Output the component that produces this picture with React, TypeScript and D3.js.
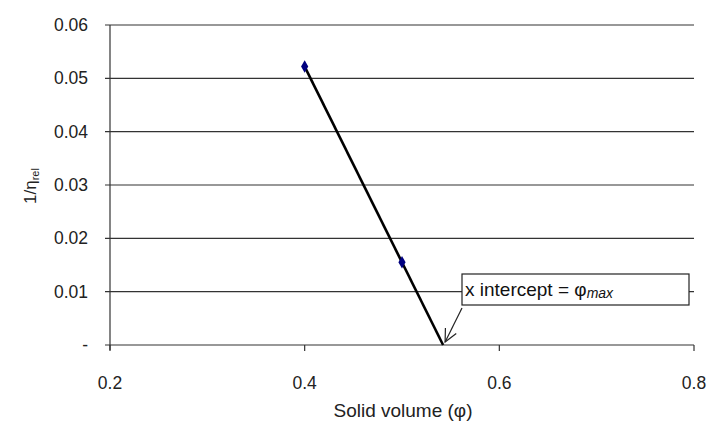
import React from "react";
import * as d3 from "d3";

const xValues = [0.4, 0.5];
const yValues = [0.0522, 0.0155];
const xTicks = [0.2, 0.4, 0.6, 0.8];
const yTicks = [0, 0.01, 0.02, 0.03, 0.04, 0.05, 0.06];
const yTickLabels = ["-", "0.01", "0.02", "0.03", "0.04", "0.05", "0.06"];

export default function App() {
  const W = 710, H = 421;
  const x = d3.scaleLinear().domain([0.2, 0.8]).range([110, 694]);
  const y = d3.scaleLinear().domain([0, 0.06]).range([345, 25]);
  const slope = (yValues[1] - yValues[0]) / (xValues[1] - xValues[0]);
  const xInt = xValues[1] - yValues[1] / slope;
  const linePts: [number, number][] = [[xValues[0], yValues[0]], [xInt, 0]];
  const line = d3.line<[number, number]>().x(d => x(d[0])).y(d => y(d[1]));
  const font = "Liberation Sans, Arial, sans-serif";
  const diamond = d3.symbol().type(d3.symbolDiamond).size(45)();
  const ax = x(xInt), ay = y(0);
  const sx = 462, sy = 308;
  const ang = Math.atan2(sy - ay, sx - ax);
  const hl = 14, ha = 0.45;
  const tipx = ax + 2, tipy = ay - 3;
  const h1 = [tipx + hl * Math.cos(ang - ha), tipy + hl * Math.sin(ang - ha)];
  const h2 = [tipx + hl * Math.cos(ang + ha), tipy + hl * Math.sin(ang + ha)];
  return (
    <svg width={W} height={H} style={{ position: "absolute", left: 0, top: 0, background: "#fff" }}>
      <rect width={W} height={H} fill="#fff" />
      {yTicks.map((t, i) => (
        <g key={i}>
          <line x1={105} x2={x(0.8)} y1={y(t)} y2={y(t)} stroke="#333" strokeWidth={1.2} />
          <text x={88} y={y(t) + 6} textAnchor="end" fontFamily={font} fontSize={17.5} fill="#222">{yTickLabels[i]}</text>
        </g>
      ))}
      <line x1={110} x2={110} y1={y(0.06)} y2={350} stroke="#333" strokeWidth={1.2} />
      {xTicks.map((t, i) => (
        <g key={i}>
          <line x1={x(t)} x2={x(t)} y1={345} y2={351} stroke="#333" strokeWidth={1.2} />
          <text x={x(t)} y={389} textAnchor="middle" fontFamily={font} fontSize={17.5} fill="#222">{t.toFixed(1)}</text>
        </g>
      ))}
      <text x={403} y={417} textAnchor="middle" fontFamily={font} fontSize={19} fill="#222">Solid volume (φ)</text>
      <text transform="translate(36,186) rotate(-90)" textAnchor="middle" fontFamily={font} fontSize={17} fill="#222">
        1/η<tspan fontSize={11} dy={3}>rel</tspan>
      </text>
      <path d={line(linePts) || ""} stroke="#000" strokeWidth={2.6} fill="none" />
      {xValues.map((v, i) => (
        <path key={i} d={diamond || ""} transform={`translate(${x(v)},${y(yValues[i])})`} fill="#000080" />
      ))}
      <rect x={462} y={274} width={227} height={31} fill="#fff" stroke="#222" strokeWidth={1.2} />
      <text x={465} y={296} fontFamily={font} fontSize={19} fill="#111">
        x intercept = φ<tspan fontStyle="italic" fontSize={14} dy={2}>max</tspan>
      </text>
      <line x1={sx} y1={sy} x2={tipx} y2={tipy} stroke="#222" strokeWidth={1.2} />
      <polyline points={`${h1[0]},${h1[1]} ${tipx},${tipy} ${h2[0]},${h2[1]}`} fill="none" stroke="#222" strokeWidth={1.2} />
    </svg>
  );
}
